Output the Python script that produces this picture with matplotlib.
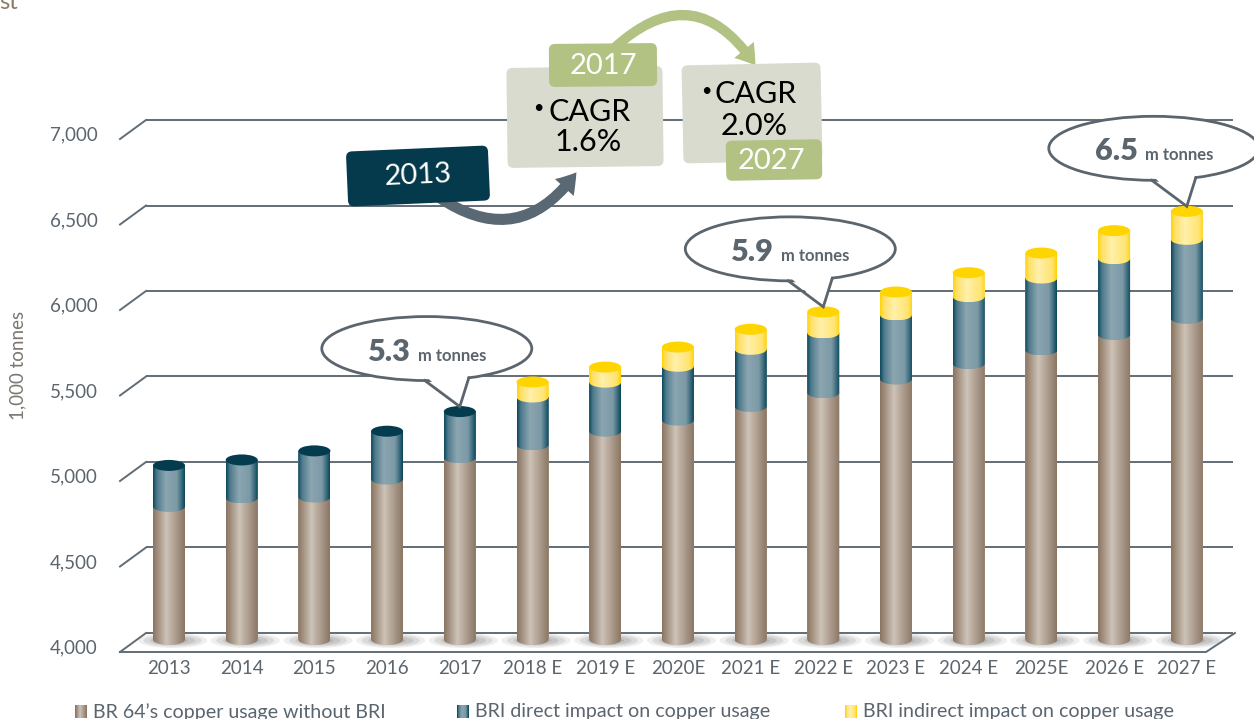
import numpy as np
import matplotlib
matplotlib.use("Agg")
import matplotlib.pyplot as plt
import matplotlib.transforms as mtransforms
from matplotlib.patches import Ellipse, PathPatch, FancyBboxPatch, FancyArrowPatch, Polygon, ArrowStyle
from matplotlib.path import Path
from matplotlib.colors import LinearSegmentedColormap

plt.rcParams['font.family'] = ['Lato', 'DejaVu Sans']

# ---------------- data ----------------
years = ['2013', '2014', '2015', '2016', '2017', '2018 E', '2019 E', '2020E',
         '2021 E', '2022 E', '2023 E', '2024 E', '2025E', '2026 E', '2027 E']
base_usage = [4740, 4790, 4795, 4900, 5025, 5100, 5180, 5245, 5325, 5405,
              5485, 5575, 5655, 5745, 5840]
direct_impact = [240, 222, 270, 280, 270, 280, 287, 315, 334, 350,
                 375, 392, 421, 444, 462]
indirect_impact = [0, 0, 0, 0, 0, 88, 88, 112, 117, 123,
                   134, 140, 146, 164, 164]
y_ticks = [4000, 4500, 5000, 5500, 6000, 6500, 7000]
series_labels = ["BR 64\u2019s copper usage without BRI",
                 "BRI direct impact on copper usage",
                 "BRI indirect impact on copper usage"]
callout_years = ['2017', '2022 E', '2027 E']
period_labels = ['2013', '2017', '2027']
cagr_values = ['1.6%', '2.0%']
y_axis_label = '1,000 tonnes'

# ---------------- style ----------------
TXT = '#5b656e'
GRID = '#616d76'
NAVY = '#043a4c'
GREEN = '#b1c283'
PALE = '#d9dbce'
cm_brown = LinearSegmentedColormap.from_list('br', [(0, '#8a7461'), (0.42, '#cdc3b7'), (1, '#8b7664')])
cm_blue = LinearSegmentedColormap.from_list('bl', [(0, '#0a475b'), (0.12, '#4d7a8b'), (0.4, '#8ba6b1'),
                                                   (0.75, '#7c99a6'), (0.92, '#2f6376'), (1, '#0a4659')])
cm_yel = LinearSegmentedColormap.from_list('ye', [(0, '#ffd400'), (0.12, '#ffe06a'), (0.42, '#fff0ab'),
                                                  (0.85, '#ffe471'), (1, '#ffd200')])
CAP_BLUE = '#053b4e'
CAP_YEL = '#ffd500'

W, H = 1254, 719
fig = plt.figure(figsize=(W / 100, H / 100), dpi=100)
fig.patch.set_facecolor('white')

# layout in pixels
c0, step = 169.0, 72.7
back_left, back_right = 146, 1235
y_lo_px, y_hi_px = 633, 120
ax_top_px, ax_bot_px = 100, 660
s = (y_lo_px - y_hi_px) / (y_ticks[-1] - y_ticks[0])

ax = fig.add_axes([back_left / W, 1 - ax_bot_px / H, (back_right - back_left) / W,
                   (ax_bot_px - ax_top_px) / H])
xlim = ((back_left - c0) / step, (back_right - c0) / step)
ylim = (y_ticks[0] - (ax_bot_px - y_lo_px) / s, y_ticks[-1] + (y_hi_px - ax_top_px) / s)
ax.set_xlim(*xlim)
ax.set_ylim(*ylim)
ax.axis('off')

dxd = -26 / step
dyd = -19 / s

# gridlines (back wall) with slanted side wall
for v in y_ticks:
    ax.plot([xlim[0], xlim[1] - 2 / step], [v, v], color=GRID, lw=1.4, zorder=1, clip_on=False,
            solid_capstyle='butt')
    ax.plot([xlim[0] + dxd, xlim[0]], [v + dyd, v], color=GRID, lw=1.4, zorder=1, clip_on=False)
# floor
ax.plot([xlim[0] + dxd, xlim[1] - 29 / step, xlim[1]], [y_ticks[0] + dyd, y_ticks[0] + dyd, y_ticks[0]],
        color=GRID, lw=1.4, zorder=1, clip_on=False)

x = np.arange(len(years))
bw = 32 / step
ry = 5.5 / s
base_level = y_ticks[0] - 6.5 / s

# shadows
for i in x:
    for sw, sh, a in [(0.95, 15, 0.12), (0.8, 12, 0.18), (0.62, 9, 0.22), (0.42, 6, 0.25)]:
        ax.add_patch(Ellipse((i + 0.05, base_level - 1 / s), sw, sh / s, facecolor='#7f7f7f',
                             alpha=a, lw=0, zorder=2, clip_on=False))

grad = np.linspace(0, 1, 128).reshape(1, -1)


def segment(xc, y0, y1, cmap, z):
    n = 40
    t = np.linspace(np.pi, 2 * np.pi, n)
    ax_ = xc + (bw / 2) * np.cos(t)
    ay_ = y0 + ry * np.sin(t)
    verts = [(xc - bw / 2, y1)] + list(zip(ax_, ay_)) + [(xc + bw / 2, y1), (xc - bw / 2, y1)]
    codes = [Path.MOVETO] + [Path.LINETO] * (n + 1) + [Path.CLOSEPOLY]
    patch = PathPatch(Path(verts, codes), transform=ax.transData, facecolor='none', edgecolor='none')
    im = ax.imshow(grad, extent=(xc - bw / 2, xc + bw / 2, y0 - ry, y1), aspect='auto', cmap=cmap,
                   zorder=z, interpolation='bilinear', clip_on=True)
    im.set_clip_path(patch)


b = np.array(base_usage, float)
d = np.array(direct_impact, float)
ind = np.array(indirect_impact, float)
totals = b + d + ind

ax.bar(x, b - base_level, bottom=base_level, width=bw, color='#a89888', zorder=3)
ax.bar(x, d, bottom=b, width=bw, color='#7895a2', zorder=4)
ax.bar(x, ind, bottom=b + d, width=bw, color='#ffeb99', zorder=5)
for i in x:
    segment(i, base_level, b[i], cm_brown, 3.1)
    segment(i, b[i], b[i] + d[i], cm_blue, 4.1)
    if ind[i] > 0:
        segment(i, b[i] + d[i], totals[i], cm_yel, 5.1)
        cap = CAP_YEL
    else:
        cap = CAP_BLUE
    ax.add_patch(Ellipse((i, totals[i]), bw, 2 * ry, facecolor=cap, edgecolor='none', zorder=6))

ax.set_xlim(*xlim)
ax.set_ylim(*ylim)
ax.set_aspect('auto')

# ---------------- overlay (pixel coordinates) ----------------
ax2 = fig.add_axes([0, 0, 1, 1], zorder=5)
ax2.set_xlim(0, W)
ax2.set_ylim(H, 0)
ax2.axis('off')
ax2.patch.set_alpha(0)

# x tick labels
bt = mtransforms.blended_transform_factory(ax.transData, ax2.transData)
for i, lab in enumerate(years):
    ax2.text(i, 669, lab, transform=bt, ha='center', va='center', fontsize=13.5, color=TXT)

# y tick labels (at front edge of slanted lines)
bt2 = mtransforms.blended_transform_factory(ax2.transData, ax.transData) + \
    mtransforms.ScaledTranslation(0, -15 / 100, fig.dpi_scale_trans)
for v in y_ticks:
    ax2.text(98, v, f'{v:,}', transform=bt2, ha='right', va='center', fontsize=13.5, color=TXT)

ax2.text(18, 365, y_axis_label, rotation=90, ha='center', va='center', fontsize=13.5, color='#7b7670')
ax2.text(-1, 9, 'st', ha='left', va='baseline', fontsize=17, color='#8c7a68')


# callouts
def callout(tipx, tipy, big, small):
    cx, cy = tipx - 33, tipy - 58
    ew, eh = 210, 64
    ax2.add_patch(Ellipse((cx, cy), ew, eh, facecolor='white', edgecolor=TXT, lw=2.0, zorder=5))

    def ey(dx):
        return cy + eh / 2 * np.sqrt(1 - (2 * dx / ew) ** 2)
    bl = (cx - 2, ey(-2))
    br = (cx + 42, ey(42))
    ax2.add_patch(Polygon([(bl[0], bl[1] - 5), (tipx, tipy), (br[0], br[1] - 5)], closed=True,
                          facecolor='white', edgecolor='none', zorder=6))
    ax2.plot([bl[0], tipx, br[0]], [bl[1], tipy, br[1]], color=TXT, lw=2.0, zorder=7,
             solid_joinstyle='miter')
    ax2.text(cx - 16, cy + 12, big, ha='right', va='baseline', fontsize=22, fontweight='heavy',
             color=TXT, zorder=8)
    ax2.text(cx - 9, cy + 12, small, ha='left', va='baseline', fontsize=12, fontweight='bold',
             color=TXT, zorder=8)


for yl in callout_years:
    i = years.index(yl)
    dx_, dy_ = ax.transData.transform((i, totals[i]))
    callout(dx_, H - dy_ - 5, f'{totals[i] / 1000:.1f}', 'm tonnes')

# arrows
ax2.add_patch(FancyArrowPatch((437, 196), (578, 170), connectionstyle='arc3,rad=0.5',
                              arrowstyle=ArrowStyle.Simple(head_length=1.0, head_width=1.3, tail_width=0.55),
                              mutation_scale=14, color='#5a6873', lw=0, zorder=3))
ax2.add_patch(FancyArrowPatch((612, 50), (757, 68), connectionstyle='arc3,rad=-0.6',
                              arrowstyle=ArrowStyle.Simple(head_length=1.0, head_width=1.3, tail_width=0.5),
                              mutation_scale=14, color=GREEN, lw=0, zorder=3))


def box(cx, cy, w, h, color, angle, z):
    tr = mtransforms.Affine2D().rotate_deg_around(cx, cy, -angle) + ax2.transData
    ax2.add_patch(FancyBboxPatch((cx - w / 2, cy - h / 2), w, h, boxstyle='round,pad=0,rounding_size=6',
                                 facecolor=color, edgecolor='none', transform=tr, zorder=z))


box(418, 176, 142, 55, NAVY, 2.5, 4)
ax2.text(418, 176, period_labels[0], ha='center', va='center', fontsize=21, color='white',
         rotation=2.5, rotation_mode='anchor', zorder=9)

# CAGR box 1
box(585, 117, 156, 100, PALE, 0.7, 4)
ax2.text(538, 108, '\u2022', ha='center', va='center', fontsize=13, color='black', zorder=9)
ax2.text(590, 112, 'CAGR', ha='center', va='center', fontsize=22, color='black', zorder=9)
ax2.text(588, 142, cagr_values[0], ha='center', va='center', fontsize=22, color='black', zorder=9)
box(603, 65, 108, 43, GREEN, 0.5, 5)
ax2.text(603, 66, period_labels[1], ha='center', va='center', fontsize=21, color='white', zorder=9)

# CAGR box 2
box(752, 113, 139, 98, PALE, 1.2, 4)
ax2.text(706, 91, '\u2022', ha='center', va='center', fontsize=13, color='black', zorder=9)
ax2.text(756, 94, 'CAGR', ha='center', va='center', fontsize=22, color='black', zorder=9)
ax2.text(754, 126, cagr_values[1], ha='center', va='center', fontsize=22, color='black', zorder=9)
box(774, 160, 96, 40, GREEN, 1.0, 5)
ax2.text(771, 161, period_labels[2], ha='center', va='center', fontsize=21, color='white', zorder=9)

# legend
for lx, cmap, lab in zip([75, 457, 845], [cm_brown, cm_blue, cm_yel], series_labels):
    ax2.imshow(np.linspace(0, 1, 16).reshape(1, -1), extent=(lx, lx + 12, 718, 705), aspect='auto',
               cmap=cmap, zorder=9, interpolation='bilinear')
    ax2.text(lx + 18, 712, lab, ha='left', va='center', fontsize=14.1, color=TXT, zorder=9)

ax2.set_xlim(0, W)
ax2.set_ylim(H, 0)

fig.savefig('out.png', dpi=100, facecolor='white')
